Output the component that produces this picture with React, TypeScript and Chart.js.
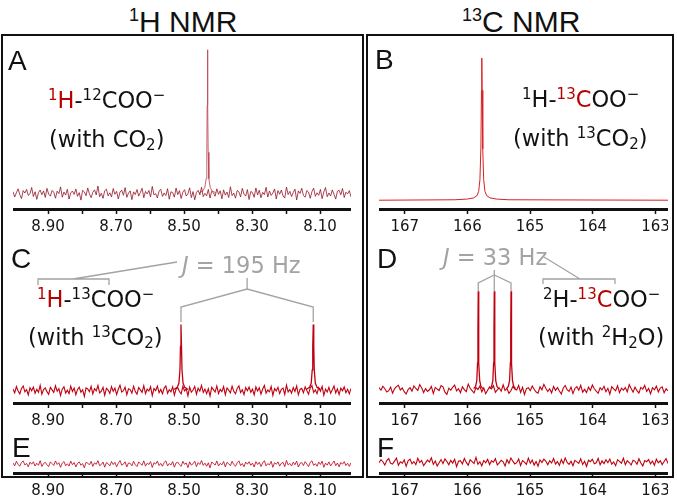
import React, { useEffect, useRef } from 'react';
import { Chart, registerables } from 'chart.js';
Chart.register(...registerables);

// ---------- axes ----------
const H_MIN = 8.009;
const H_MAX = 9.003;
const C_MIN = 162.8;
const C_MAX = 167.41;
const hTickValues = [8.1, 8.2, 8.3, 8.4, 8.5, 8.6, 8.7, 8.8, 8.9];
const hTickLabels = ['8.10', '', '8.30', '', '8.50', '', '8.70', '', '8.90'];
const cTickValues = [163, 164, 165, 166, 167];
const cTickLabels = ['163', '164', '165', '166', '167'];

// ---------- spectra: baseline noise (arbitrary units) ----------
const noiseA = [
  1.2,-2.5,0.4,3.1,-0.8,-3.6,1.9,0.2,2.7,-1.4,-0.3,4.0,-2.2,1.1,-4.1,0.6,2.3,-0.9,1.7,-2.8,
  3.4,-0.5,-1.9,2.0,0.8,-3.3,1.5,-0.2,4.4,-2.6,0.9,-1.2,2.8,-3.9,0.3,1.6,-0.7,3.0,-2.0,0.5,
  -4.6,2.1,1.0,-1.6,3.7,-0.4,-2.9,0.7,2.4,-1.1,5.0,-2.3,0.1,-3.4,1.8,2.9,-1.7,0.4,-2.5,3.3,
  -0.6,1.4,-3.8,0.9,2.2,-1.3,3.9,-2.7,0.2,1.7,-4.3,1.0,-0.8,2.6,-1.9,0.6,3.5,-3.0,1.3,-0.4,
  2.0,-2.4,4.7,-1.0,-0.2,-3.1,1.6,2.8,-2.1,0.3,-1.5,3.2,-4.0,1.1,0.5,-2.6,3.6,-0.9,1.9,-3.5,
  0.8,2.5,-1.8,-0.3,3.8,-2.9,1.2,-4.4,0.6,2.1,-1.0,4.2,-2.2,0.0,-1.7,2.7,-3.2,1.5,0.4,-2.0,
  3.1,-0.7,1.8,-3.7,2.4,-1.2,0.9,-2.8,4.5,-1.6,0.2,-3.3,2.0,1.0,-2.4,3.4,-0.5,-1.9,2.6,-4.2,
  1.3,0.5,-2.7,3.7,-1.1,2.2,-3.0,0.7,-0.9,4.1,-2.5,1.6,-1.4,0.3,3.0,-3.8,1.9,-0.6,2.3,-1.8,
  -3.2,4.3,-0.8,1.4,-2.2,0.6,2.9,-4.5,1.7,-0.1,3.5,-1.5,-2.6,2.0,0.9,-3.4,1.2,3.6,-2.0,0.4,
  -1.3,2.7,-3.6,1.0,4.0,-2.3,0.3,-1.8,2.4,-0.7,-3.9,1.5,2.1,-1.0,3.3,-2.8,0.8,-0.4,1.9,-2.4
];
const noiseC = [
  0.9,-1.7,2.6,-0.5,-2.4,1.3,3.0,-1.1,0.4,-3.2,1.8,-0.3,2.2,-2.0,0.7,-1.4,3.4,-2.6,0.5,1.6,
  -0.9,-2.8,2.0,0.3,-1.5,3.1,-0.6,1.2,-3.5,0.8,2.4,-1.9,0.1,-2.2,2.9,-0.8,1.5,-3.0,0.6,2.1,
  -1.3,0.4,-4.2,1.7,0.9,-1.0,2.7,-2.5,1.1,-0.4,3.3,-1.8,-0.6,2.0,-3.4,1.4,0.2,-2.1,2.5,-0.7,
  1.6,-2.9,0.7,3.5,-1.2,-0.3,2.2,-3.1,1.0,0.5,-1.9,2.8,-0.9,-2.6,1.9,0.3,-1.4,3.2,-2.2,0.8,
  -0.5,2.4,-3.6,1.2,-0.2,2.9,-1.6,0.6,-2.4,1.5,3.0,-2.0,0.4,-1.1,2.3,-3.3,0.9,1.8,-0.8,-2.5,
  2.6,-0.4,1.0,-3.8,2.1,-1.3,0.2,2.7,-2.7,1.4,-0.6,3.4,-1.5,0.8,-2.3,1.1,-4.0,2.0,0.5,-1.2,
  3.0,-2.1,0.6,-0.9,2.5,-3.0,1.6,0.1,-1.8,2.8,-0.7,-2.4,1.3,3.1,-1.6,0.4,-2.9,1.9,-0.3,2.2,
  -1.4,0.8,-3.2,2.3,-0.5,1.7,-2.6,0.9,3.3,-1.9,0.2,-1.0,2.6,-3.5,1.2,-0.4,2.0,-2.2,0.7,1.5,
  -2.8,3.6,-1.1,0.5,-2.0,1.8,-0.8,2.9,-3.1,0.6,1.3,-1.7,2.4,-0.2,-2.7,1.6,3.2,-1.5,0.3,-2.3,
  1.9,-0.6,2.7,-3.4,0.8,-1.2,2.1,-2.0,0.4,3.0,-1.8,1.0,-2.9,1.5,-0.3,2.3,-1.6,0.7,-2.4,1.2
];
const noiseE = [
  0.7,-1.4,1.9,-0.3,-1.7,1.1,2.2,-0.8,0.4,-2.1,1.3,-0.2,1.6,-1.5,0.5,-1.0,2.4,-1.9,0.3,1.2,
  -0.6,-2.0,1.5,0.2,-1.1,2.2,-0.4,0.9,-2.5,0.6,1.8,-1.4,0.1,-1.6,2.1,-0.6,1.1,-2.2,0.4,1.5,
  -1.0,0.3,-2.9,1.2,0.6,-0.7,1.9,-1.8,0.8,-0.3,2.4,-1.3,-0.4,1.4,-2.4,1.0,0.2,-1.5,1.8,-0.5,
  1.2,-2.1,0.5,2.5,-0.9,-0.2,1.6,-2.2,0.7,0.4,-1.4,2.0,-0.6,-1.9,1.4,0.2,-1.0,2.3,-1.6,0.6,
  -0.4,1.7,-2.6,0.9,-0.1,2.1,-1.2,0.4,-1.7,1.1,2.2,-1.5,0.3,-0.8,1.7,-2.4,0.7,1.3,-0.6,-1.8,
  1.9,-0.3,0.7,-2.7,1.5,-0.9,0.1,2.0,-2.0,1.0,-0.4,2.5,-1.1,0.6,-1.7,0.8,-2.9,1.4,0.4,-0.9,
  2.2,-1.5,0.4,-0.7,1.8,-2.2,1.2,0.1,-1.3,2.0,-0.5,-1.7,0.9,2.3,-1.2,0.3,-2.1,1.4,-0.2,1.6,
  -1.0,0.6,-2.3,1.7,-0.4,1.2,-1.9,0.7,2.4,-1.4,0.2,-0.7,1.9,-2.5,0.9,-0.3,1.5,-1.6,0.5,1.1,
  -2.0,2.6,-0.8,0.4,-1.5,1.3,-0.6,2.1,-2.3,0.4,1.0,-1.2,1.7,-0.1,-2.0,1.2,2.3,-1.1,0.2,-1.7,
  1.4,-0.4,2.0,-2.5,0.6,-0.9,1.5,-1.5,0.3,2.2,-1.3,0.7,-2.1,1.1,-0.2,1.7,-1.2,0.5,-1.8,0.9
];
const noiseD = [
  1.2,-0.6,2.1,0.4,-1.8,-0.9,1.5,-2.7,0.3,1.9,2.8,-0.4,0.9,-1.6,-3.1,-0.2,1.1,-1.2,2.4,0.6,
  -0.7,3.3,1.0,-2.2,0.5,-1.4,-0.3,2.0,-2.9,1.3,0.2,-0.8,2.6,1.7,-1.9,-3.4,0.8,-0.5,1.4,2.9,
  -1.1,0.4,-2.3,1.8,-0.2,-1.6,3.6,0.7,-0.9,-2.5,1.2,-0.1,2.2,-1.7,0.9,-3.0,-0.6,1.6,0.3,2.5,
  -2.0,-0.4,1.0,-1.3,3.1,-0.8,0.6,-2.8,-1.0,1.9,0.2,-0.5,2.7,-2.1,1.4,-3.5,0.5,1.1,-0.9,2.3,
  0.1,-1.8,-2.6,1.7,-0.3,3.4,0.8,-1.5,0.4,-2.4,2.0,-0.7,1.3,-1.1,-3.2,0.9,2.6,-0.2,-1.4,1.6,
  -2.9,0.6,1.8,-0.6,2.8,-1.9,0.0,-2.2,1.5,-0.8,3.0,0.4,-1.2,-2.7,1.0,-0.4,2.1,-1.6,0.7,-3.3,
  1.9,0.3,-1.0,2.4,-2.3,0.8,-0.5,1.2,-1.7,3.2,
  0.5,-2.0,1.6,-0.9,-2.6,1.3,0.2,2.7,-1.5,0.6,-3.0,1.1,-0.3,2.2,-1.8,0.9,1.7,-2.4,0.4,-1.0
];
const noiseF = [
  -0.5,1.8,0.3,-2.2,1.1,2.6,-0.9,-1.5,0.7,3.0,-2.4,0.2,-0.8,1.6,-3.1,0.9,2.2,-1.2,0.4,-1.9,
  2.8,-0.3,1.2,-2.6,-0.6,1.5,0.1,3.2,-1.7,0.8,-2.9,-0.4,1.9,-1.1,2.4,0.5,-2.0,1.3,-0.7,2.1,
  -3.3,0.6,1.0,-1.4,2.7,-0.2,-2.3,1.7,0.4,-1.0,3.5,-1.6,0.3,-2.7,1.2,-0.5,2.0,-1.8,0.9,-0.1,
  2.5,-2.1,-0.6,1.4,0.2,-2.8,1.8,-0.9,3.0,0.7,-1.3,-0.4,2.3,-2.5,1.1,0.0,-1.7,2.9,-0.8,1.5,
  -2.2,0.5,-3.0,1.6,-0.3,2.2,0.8,-1.9,1.0,-0.6,2.6,-1.4,0.4,-2.4,1.9,-1.0,3.1,-0.2,-1.6,0.7,
  -2.7,1.3,0.2,-0.9,2.4,-1.8,0.6,-3.2,1.4,0.3,2.0,-1.2,-0.5,2.7,-2.0,0.9,-1.1,1.7,-0.4,2.3,
  -1.5,0.1,-2.6,1.8,0.5,-0.8,2.9,-1.9,1.0,-0.3,
  -2.1,1.4,0.6,-1.6,2.5,-0.7,-2.8,1.2,0.3,1.9,-1.3,0.8,-2.3,2.2,-0.5,1.0,-1.8,0.4,2.6,-1.1
];

// ---------- peaks: [ppm, intensity] ----------
const peakA = [[8.455,0.5],[8.445,1.5],[8.439,4],[8.435,10],[8.433,28],[8.432,60],[8.431,98],[8.430,60],[8.429,28],[8.427,10],[8.423,4],[8.417,1.5],[8.407,0.5]];
const spectrumB = [[167.41,0],[166.2,0.3],[166.0,0.8],[165.9,1.6],[165.85,3],[165.82,6],[165.80,14],[165.785,35],[165.775,75],[165.77,97],[165.765,75],[165.755,35],[165.74,14],[165.72,6],[165.69,3],[165.64,1.6],[165.54,0.8],[165.34,0.3],[162.8,0]];
const peakC1 = [[8.530,0.5],[8.520,2],[8.515,5],[8.512,14],[8.5105,30],[8.509,45],[8.5075,30],[8.506,14],[8.503,5],[8.498,2],[8.488,0.5]];
const peakC2 = [[8.141,0.5],[8.131,2],[8.126,5],[8.123,14],[8.1215,30],[8.120,45],[8.1185,30],[8.117,14],[8.114,5],[8.109,2],[8.099,0.5]];
const peakD1 = [[165.90,0.5],[165.87,2],[165.85,6],[165.838,18],[165.832,40],[165.827,67],[165.822,40],[165.816,18],[165.804,6],[165.784,2],[165.754,0.5]];
const peakD2 = [[165.644,0.5],[165.614,2],[165.594,6],[165.582,18],[165.576,40],[165.571,67],[165.566,40],[165.560,18],[165.548,6],[165.528,2],[165.498,0.5]];
const peakD3 = [[165.377,0.5],[165.347,2],[165.327,6],[165.315,18],[165.309,40],[165.304,67],[165.299,40],[165.293,18],[165.281,6],[165.261,2],[165.231,0.5]];

const GREY = '#a3a3a3';
const RED = '#b80000';

const apex = (pts: number[][]) => pts.reduce((a, b) => (b[1] > a[1] ? b : a))[0];
const toXY = (pts: number[][]) => pts.map(([x, y]) => ({ x, y }));
const noiseXY = (vals: number[], lo: number, hi: number) =>
  vals.map((v, i) => ({ x: hi - (i * (hi - lo)) / (vals.length - 1), y: v }));

const annotC = {
  id: 'annotC',
  afterDraw(chart: any) {
    const ctx = chart.ctx;
    const xs = chart.scales.x;
    const p1 = xs.getPixelForValue(apex(peakC1));
    const p2 = xs.getPixelForValue(apex(peakC2));
    const mid = (p1 + p2) / 2;
    ctx.save();
    ctx.strokeStyle = GREY;
    ctx.lineWidth = 1.3;
    ctx.beginPath();
    ctx.moveTo(mid, 37); ctx.lineTo(mid, 48);
    ctx.moveTo(p1, 81); ctx.lineTo(p1, 66); ctx.lineTo(mid, 48); ctx.lineTo(p2, 66); ctx.lineTo(p2, 81);
    ctx.moveTo(25, 44); ctx.lineTo(25, 38); ctx.lineTo(96, 38); ctx.lineTo(96, 44);
    ctx.moveTo(60, 38); ctx.lineTo(164, 21);
    ctx.stroke();
    ctx.restore();
  },
};

const annotD = {
  id: 'annotD',
  afterDraw(chart: any) {
    const ctx = chart.ctx;
    const xs = chart.scales.x;
    const q1 = xs.getPixelForValue(apex(peakD1));
    const q2 = xs.getPixelForValue(apex(peakD2));
    const q3 = xs.getPixelForValue(apex(peakD3));
    ctx.save();
    ctx.strokeStyle = GREY;
    ctx.lineWidth = 1.3;
    ctx.beginPath();
    ctx.moveTo(q2, 29); ctx.lineTo(q2, 50);
    ctx.moveTo(q2, 34); ctx.lineTo(q1, 42); ctx.lineTo(q1, 50);
    ctx.moveTo(q2, 34); ctx.lineTo(q3, 42); ctx.lineTo(q3, 50);
    ctx.moveTo(164, 43); ctx.lineTo(164, 38); ctx.lineTo(236, 38); ctx.lineTo(236, 43);
    ctx.moveTo(165, 16); ctx.lineTo(201, 38);
    ctx.stroke();
    ctx.restore();
  },
};

type PanelProps = {
  left: number; top: number; width: number; height: number;
  xmin: number; xmax: number; ticks: number[]; labels: string[];
  ymin: number; ymax: number; datasets: any[]; plugins?: any[];
};

function Panel(p: PanelProps) {
  const ref = useRef<HTMLCanvasElement>(null);
  useEffect(() => {
    if (!ref.current) return;
    const chart = new Chart(ref.current, {
      type: 'line',
      data: { datasets: p.datasets },
      options: {
        animation: false,
        responsive: false,
        maintainAspectRatio: false,
        layout: { padding: 0 },
        plugins: { legend: { display: false }, tooltip: { enabled: false } },
        elements: { point: { radius: 0 }, line: { tension: 0 } },
        scales: {
          x: {
            type: 'linear',
            reverse: true,
            min: p.xmin,
            max: p.xmax,
            afterBuildTicks: (axis: any) => {
              axis.ticks = p.ticks.map((v) => ({ value: v }));
            },
            ticks: {
              autoSkip: false,
              maxRotation: 0,
              padding: 4,
              color: '#151515',
              font: { family: '"DejaVu Sans"', size: 15 },
              callback: (_v: any, i: number) => p.labels[i],
            },
            grid: { drawOnChartArea: false, drawTicks: true, tickLength: 5, tickWidth: 1.5, color: '#111' },
            border: { display: true, width: 3, color: '#111' },
          },
          y: { display: false, min: p.ymin, max: p.ymax },
        },
      } as any,
      plugins: p.plugins || [],
    });
    return () => chart.destroy();
  }, []);
  return (
    <canvas
      ref={ref}
      width={p.width}
      height={p.height}
      style={{ position: 'absolute', left: p.left, top: p.top, width: p.width, height: p.height }}
    />
  );
}

const line = (data: any[], color: string, w = 1) => ({
  data, borderColor: color, borderWidth: w, pointRadius: 0, fill: false,
});

const Sup = ({ children, size = 15, up = 8 }: any) => (
  <span style={{ fontSize: size, position: 'relative', top: -up }}>{children}</span>
);
const Sub = ({ children }: any) => (
  <span style={{ fontSize: 15, position: 'relative', top: 3 }}>{children}</span>
);
const R = ({ children }: any) => <span style={{ color: RED }}>{children}</span>;

const T = ({ x, b, size = 22.5, sans = false, color = '#111', children }: any) => {
  const asc = sans ? 0.905 : 0.928;
  return (
    <div
      style={{
        position: 'absolute', left: x, top: b - asc * size, fontSize: size,
        fontFamily: sans ? '"Liberation Sans", Arial, sans-serif' : '"DejaVu Sans", sans-serif',
        lineHeight: 'normal', whiteSpace: 'nowrap', color,
      }}
    >
      {children}
    </div>
  );
};

export default function App() {
  const L = { left: 13, width: 338, xmin: H_MIN, xmax: H_MAX, ticks: hTickValues, labels: hTickLabels };
  const Rt = { left: 379, width: 289, xmin: C_MIN, xmax: C_MAX, ticks: cTickValues, labels: cTickLabels };
  return (
    <div style={{ position: 'absolute', left: 0, top: 0, width: 677, height: 504, background: '#fff', overflow: 'hidden' }}>
      <div style={{ position: 'absolute', left: 1, top: 34, width: 363, height: 444, border: '2px solid #111', boxSizing: 'border-box' }} />
      <div style={{ position: 'absolute', left: 366, top: 34, width: 308, height: 444, border: '2px solid #111', boxSizing: 'border-box' }} />

      <Panel {...L} top={40} height={200} ymin={-10.67} ymax={104.67}
        datasets={[line(noiseXY(noiseA, H_MIN, H_MAX), 'rgba(145,15,35,0.78)'), line(toXY(peakA), 'rgba(185,60,75,0.8)')]} />
      <Panel {...L} top={241} height={193} ymin={-8.67} ymax={102}
        datasets={[line(noiseXY(noiseC, H_MIN, H_MAX), '#c00010', 1.1), line(toXY(peakC1), '#c00010', 1.3), line(toXY(peakC2), '#c00010', 1.3)]}
        plugins={[annotC]} />
      <Panel {...L} top={434} height={70} ymin={-6.67} ymax={22}
        datasets={[line(noiseXY(noiseE, H_MIN, H_MAX), 'rgba(190,10,30,0.85)')]} />

      <Panel {...Rt} top={40} height={200} ymin={-6} ymax={109.33}
        datasets={[line(toXY(spectrumB), '#d82020')]} />
      <Panel {...Rt} top={241} height={193} ymin={-9.33} ymax={101.33}
        datasets={[line(noiseXY(noiseD, C_MIN, C_MAX), '#c00010', 1.1), line(toXY(peakD1), '#c00010', 1.3), line(toXY(peakD2), '#c00010', 1.3), line(toXY(peakD3), '#c00010', 1.3)]}
        plugins={[annotD]} />
      <Panel {...Rt} top={434} height={70} ymin={-8} ymax={20.67}
        datasets={[line(noiseXY(noiseF, C_MIN, C_MAX), '#c00010', 1.1)]} />

      <T x={129} b={32} size={30} sans><Sup size={18} up={11}>1</Sup>H NMR</T>
      <T x={462} b={32} size={30} sans><Sup size={18} up={11}>13</Sup>C NMR</T>

      <T x={8} b={70} size={28} sans>A</T>
      <T x={375} b={69.5} size={28} sans>B</T>
      <T x={11} b={268} size={28} sans>C</T>
      <T x={377} b={268} size={28} sans>D</T>
      <T x={12} b={457} size={28} sans>E</T>
      <T x={377} b={457} size={28} sans>F</T>

      <T x={48} b={108}><R><Sup>1</Sup>H</R>-<Sup>12</Sup>COO<Sup>−</Sup></T>
      <T x={49} b={147}>(with CO<Sub>2</Sub>)</T>
      <T x={522} b={107}><Sup>1</Sup>H-<R><Sup>13</Sup>C</R>OO<Sup>−</Sup></T>
      <T x={513} b={146}>(with <Sup>13</Sup>CO<Sub>2</Sub>)</T>
      <T x={37} b={307}><R><Sup>1</Sup>H</R>-<Sup>13</Sup>COO<Sup>−</Sup></T>
      <T x={28} b={345}>(with <Sup>13</Sup>CO<Sub>2</Sub>)</T>
      <T x={543} b={307}><Sup>2</Sup>H-<R><Sup>13</Sup>C</R>OO<Sup>−</Sup></T>
      <T x={538} b={345}>(with <Sup>2</Sup>H<Sub>2</Sub>O)</T>
      <T x={182} b={273} color={GREY}><i>J</i> = 195 Hz</T>
      <T x={443} b={265} color={GREY}><i>J</i> = 33 Hz</T>
    </div>
  );
}
